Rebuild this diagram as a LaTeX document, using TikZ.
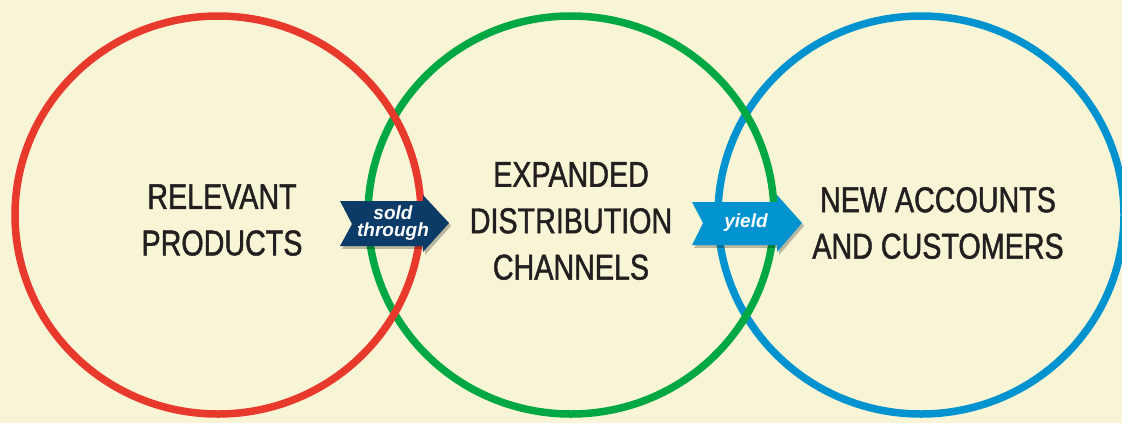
\documentclass[tikz,border=0pt]{standalone}
\usepackage{fontspec}
\setmainfont{Liberation Sans}
\newfontfamily\condfont{Liberation Sans}[FakeStretch=0.8, FakeBold=1.3]
\usetikzlibrary{shadows}

\definecolor{cream}{HTML}{F8F5D6}
\definecolor{ringred}{HTML}{E8392D}
\definecolor{ringgreen}{HTML}{00A844}
\definecolor{ringblue}{HTML}{0093CF}
\definecolor{navy}{HTML}{0B3B66}
\definecolor{ink}{HTML}{231F20}

\tikzset{
  ring/.style={line width=0.1875cm},
  label/.style={font=\condfont\fontsize{25.5}{33}\selectfont, text=ink, align=center, inner sep=0pt},
  tag/.style={font=\bfseries\itshape\fontsize{13.5}{11.5}\selectfont, text=white, align=center, inner sep=0pt},
  tagshadow/.style={drop shadow={shadow xshift=1.5pt, shadow yshift=-2pt, opacity=0.25, fill=black}}
}

\begin{document}
\begin{tikzpicture}[x=0.025cm, y=-0.025cm]
\useasboundingbox (0,0) rectangle (1122,423);
\fill[cream] (0,0) rectangle (1122,423);
\clip (0,0) rectangle (1122,423);

\coordinate (products) at (218,215);
\coordinate (channels) at (571,215);
\coordinate (customers) at (921,215);

\draw[ringblue, ring] (customers) ellipse [x radius=203, y radius=199];
\draw[ringgreen, ring] (channels) ellipse [x radius=203, y radius=199];
\draw[ringred, ring] (products) ellipse [x radius=203, y radius=199];

\node[label] (relevant) at (222,220) {RELEVANT\\PRODUCTS};
\node[label] (expanded) at (571,221) {EXPANDED\\DISTRIBUTION\\CHANNELS};
\node[label] (accounts) at (938,223) {NEW ACCOUNTS\\AND CUSTOMERS};

\fill[navy, tagshadow] (340,201) -- (423,201) -- (423,195) -- (449,223) -- (423,252) -- (423,246) -- (340,246) -- (352,224) -- cycle;
\fill[ringblue, tagshadow] (692,202) -- (777,202) -- (777,195) -- (802,223) -- (777,252) -- (777,245) -- (692,245) -- (703,223) -- cycle;

\node[tag] (sold) at (393,223) {sold\\through};
\node[tag] (yield) at (746,223) {yield};
\end{tikzpicture}
\end{document}
